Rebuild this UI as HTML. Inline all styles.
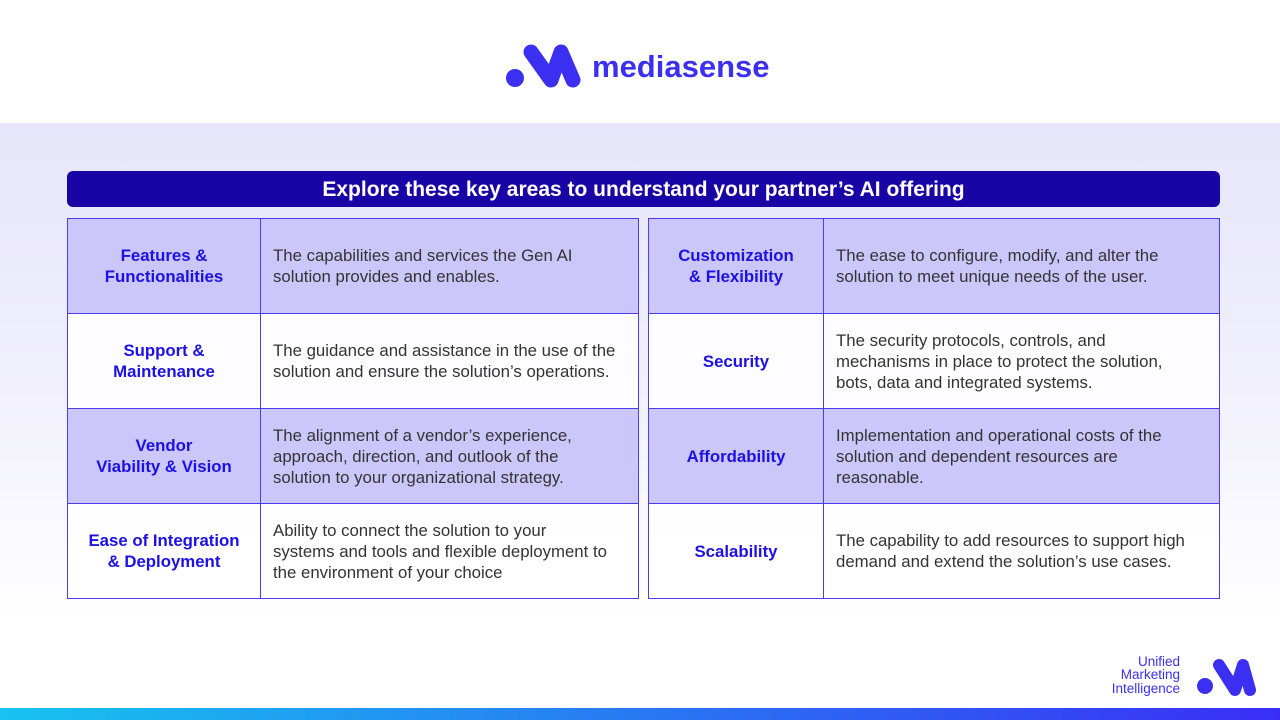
<!DOCTYPE html>
<html><head><meta charset="utf-8"><style>
*{margin:0;padding:0;box-sizing:border-box}
body{width:1280px;height:720px;position:relative;overflow:hidden;font-family:"Liberation Sans",sans-serif;background:#fff}
.bg{position:absolute;left:0;top:123px;width:1280px;height:585px;background:linear-gradient(#e7e5fb 0%,#f1f0fc 45%,#ffffff 85%)}
.bar{position:absolute;left:0;top:708px;width:1280px;height:12px;background:linear-gradient(90deg,#17c3f0,#3a2ef5)}
.hdr{position:absolute;left:67px;top:171px;width:1153px;height:36px;background:#1905a6;border-radius:6px;color:#fff;font-weight:bold;font-size:21px;text-align:center;line-height:37px}
table{position:absolute;top:218px;border-collapse:collapse}
td{border:1px solid #4b3cf2;height:95px;vertical-align:middle;font-size:16.8px;line-height:21px;white-space:nowrap}
td.l{color:#1c10e4;font-weight:bold;text-align:center}
td.d{color:#333;padding-left:12px;padding-right:4px}
tr.s td{background:#cbc7fb}
tr.w td{background:rgba(255,255,255,0.85)}
</style></head><body>
<div class="bg"></div>
<svg style="position:absolute;left:0;top:0" width="1280" height="720">
<circle cx="515" cy="78" r="9" fill="#3b2ff2"/>
<path d="M531 52 L551 80 M551 80 L561 52 L573 80" stroke="#3b2ff2" stroke-width="15" stroke-linecap="round" stroke-linejoin="round" fill="none"/>
<text x="592" y="77" font-family="Liberation Sans" font-weight="bold" font-size="31" fill="#3b2ff2">mediasense</text>
<circle cx="1205" cy="686" r="8" fill="#3b2ff2"/>
<path d="M1219 665 L1235 690 L1243 665 L1250 690" stroke="#3b2ff2" stroke-width="12" stroke-linecap="round" stroke-linejoin="round" fill="none"/>
<text x="1180" y="666" text-anchor="end" font-family="Liberation Sans" font-size="13.5" fill="#3b2ff2">Unified</text>
<text x="1180" y="679" text-anchor="end" font-family="Liberation Sans" font-size="13.5" fill="#3b2ff2">Marketing</text>
<text x="1180" y="693" text-anchor="end" font-family="Liberation Sans" font-size="13.5" fill="#3b2ff2">Intelligence</text>
</svg>
<div class="hdr">Explore these key areas to understand your partner’s AI offering</div>
<table style="left:67px;width:572px">
<colgroup><col style="width:193px"><col></colgroup>
<tr class="s"><td class="l">Features &amp;<br>Functionalities</td><td class="d">The capabilities and services the Gen AI<br>solution provides and enables.</td></tr>
<tr class="w"><td class="l">Support &amp;<br>Maintenance</td><td class="d">The guidance and assistance in the use of the<br>solution and ensure the solution’s operations.</td></tr>
<tr class="s"><td class="l">Vendor<br>Viability &amp; Vision</td><td class="d">The alignment of a vendor’s experience,<br>approach, direction, and outlook of the<br>solution to your organizational strategy.</td></tr>
<tr class="w"><td class="l">Ease of Integration<br>&amp; Deployment</td><td class="d">Ability to connect the solution to your<br>systems and tools and flexible deployment to<br>the environment of your choice</td></tr>
</table>
<table style="left:648px;width:572px">
<colgroup><col style="width:175px"><col></colgroup>
<tr class="s"><td class="l">Customization<br>&amp; Flexibility</td><td class="d">The ease to configure, modify, and alter the<br>solution to meet unique needs of the user.</td></tr>
<tr class="w"><td class="l">Security</td><td class="d">The security protocols, controls, and<br>mechanisms in place to protect the solution,<br>bots, data and integrated systems.</td></tr>
<tr class="s"><td class="l">Affordability</td><td class="d">Implementation and operational costs of the<br>solution and dependent resources are<br>reasonable.</td></tr>
<tr class="w"><td class="l">Scalability</td><td class="d">The capability to add resources to support high<br>demand and extend the solution’s use cases.</td></tr>
</table>
<div class="bar"></div>
</body></html>
